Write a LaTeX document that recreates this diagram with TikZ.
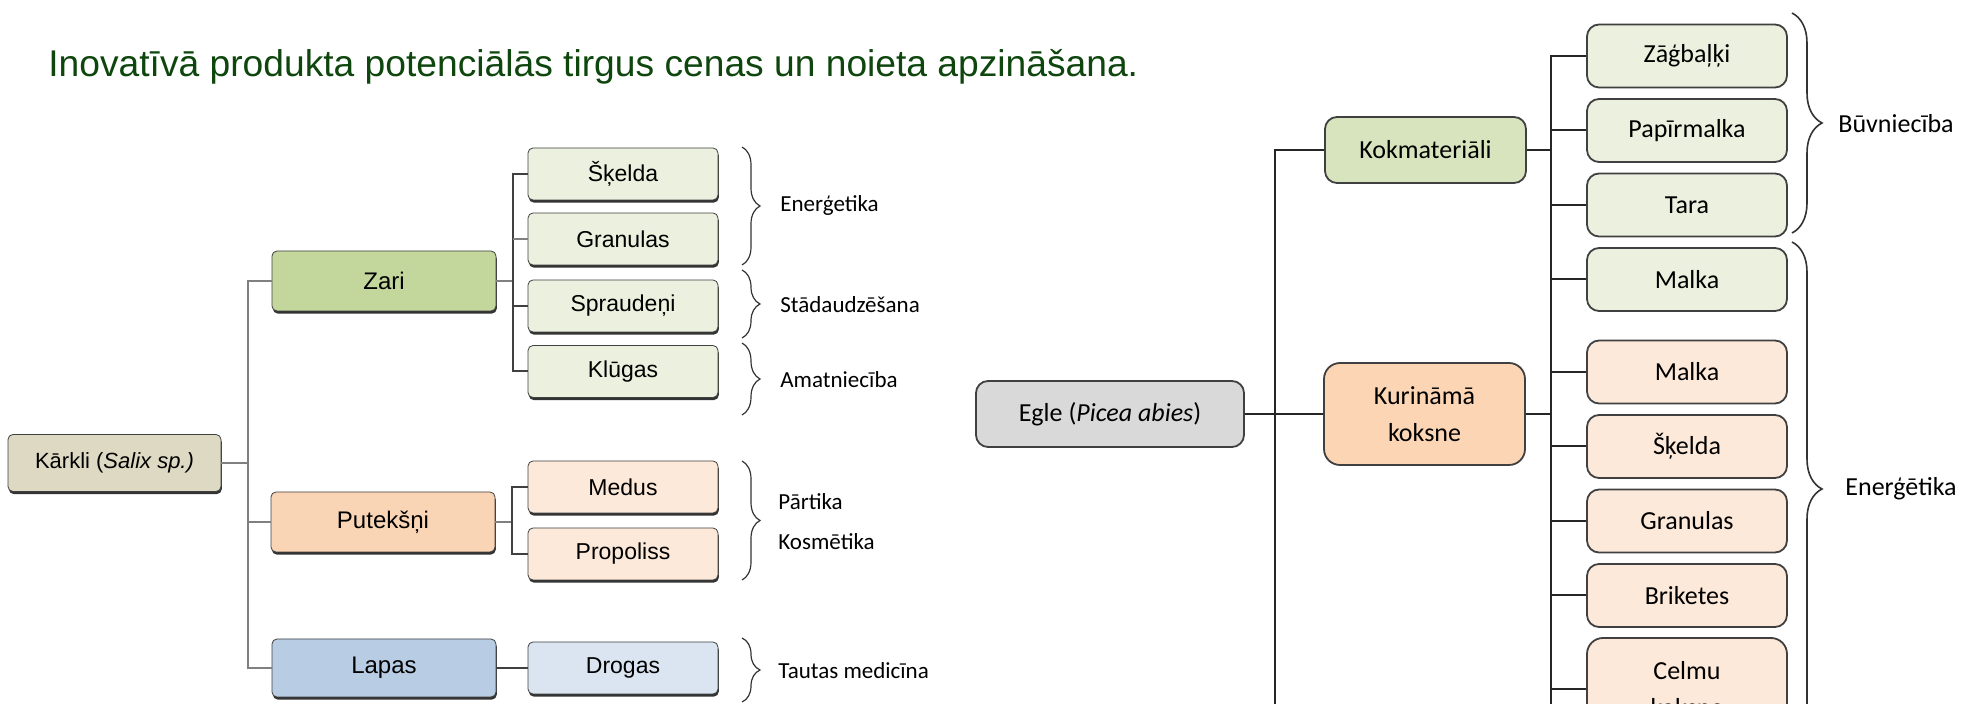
\documentclass[tikz,border=0pt]{standalone}
\usepackage{fontspec}
\setmainfont{Liberation Sans}
\newfontfamily\calibri{Carlito}
\usepackage{tikz}
\usetikzlibrary{shadows}
\usetikzlibrary{decorations.pathreplacing}

\definecolor{titlegreen}{RGB}{14,70,14}
\definecolor{karkliFill}{RGB}{221,217,195}
\definecolor{zariFill}{RGB}{195,214,155}
\definecolor{putekFill}{RGB}{250,213,181}
\definecolor{lapasFill}{RGB}{184,204,228}
\definecolor{greenLight}{RGB}{235,241,222}
\definecolor{peachLight}{RGB}{253,233,217}
\definecolor{blueLight}{RGB}{219,229,241}
\definecolor{egleFill}{RGB}{217,217,217}
\definecolor{kokFill}{RGB}{215,228,189}
\definecolor{kurFill}{RGB}{252,213,180}

\begin{document}
\begin{tikzpicture}[x=0.5pt,y=-0.5pt,
  lbox/.style={draw=black!75, line width=0.4pt, rounded corners=2.5pt, minimum width=112pt, minimum height=30pt, inner sep=0pt, font=\fontsize{12}{14}\selectfont, drop shadow={shadow xshift=0.4pt, shadow yshift=-1.3pt, fill=black!80, opacity=1}},
  lsub/.style={lbox, minimum width=95pt, minimum height=26pt, font=\fontsize{11.5}{14}\selectfont},
  rbox/.style={draw=black!75, line width=0.9pt, rounded corners=6pt, minimum width=100.5pt, minimum height=33pt, inner sep=0pt, align=center, font=\calibri\fontsize{13}{18.5}\selectfont},
  rsub/.style={rbox, minimum width=100pt, minimum height=31.5pt},
  lline/.style={draw=black!50, line width=1.2pt},
  lsubline/.style={draw=black!75, line width=1pt},
  rline/.style={draw=black!85, line width=1pt},
  lbrace/.style={decorate, decoration={brace, amplitude=9pt}, draw=black!80, line width=0.6pt},
  rbrace/.style={decorate, decoration={brace, amplitude=15pt}, draw=black!80, line width=0.8pt},
  ltext/.style={anchor=west, inner sep=0pt, font=\calibri\fontsize{11.5}{14}\selectfont},
  rtext/.style={anchor=west, inner sep=0pt, font=\calibri\fontsize{13}{16}\selectfont}]
\useasboundingbox (0,0) rectangle (1972,704);
\clip (0,0) rectangle (1972,704);

\node[anchor=base west, inner sep=0pt, text=titlegreen, font=\fontsize{18.6}{22}\selectfont] (title) at (48,77) {Inovatīvā produkta potenciālās tirgus cenas un noieta apzināšana.};

%% Karkli
\node[lbox, fill=karkliFill, minimum width=106.5pt, minimum height=28.5pt, font=\fontsize{11}{13}\selectfont] (karkli) at (114.5,463) {Kārkli (\textit{Salix sp.)}};
\node[lbox, fill=zariFill] (zari) at (384,281) {Zari};
\node[lbox, fill=putekFill] (putek) at (383,522) {Putekšņi};
\node[lbox, fill=lapasFill, minimum height=29pt] (lapas) at (384,668) {Lapas};

\node[lsub, fill=greenLight] (skelda) at (623,174) {Šķelda};
\node[lsub, fill=greenLight] (granulas) at (623,239) {Granulas};
\node[lsub, fill=greenLight] (spraud) at (623,306) {Spraudeņi};
\node[lsub, fill=greenLight] (klugas) at (623,371.5) {Klūgas};
\node[lsub, fill=peachLight] (medus) at (623,487) {Medus};
\node[lsub, fill=peachLight] (propol) at (623,554) {Propoliss};
\node[lsub, fill=blueLight] (drogas) at (623,668) {Drogas};

\coordinate (lspine) at (248,0);
\coordinate (zspine) at (513,0);
\coordinate (pspine) at (512,0);

\draw[lline] (zari.west) -- (zari.west -| lspine) -- (lapas.west -| lspine) -- (lapas.west);
\draw[lline] (karkli.east) -- (karkli.east -| lspine);
\draw[lline] (putek.west) -- (putek.west -| lspine);

\draw[lline] (zari.east) -- (zari.east -| zspine);
\draw[lsubline] (skelda.west) -- (skelda.west -| zspine) -- (klugas.west -| zspine) -- (klugas.west);
\draw[lline] (granulas.west) -- (granulas.west -| zspine);
\draw[lsubline] (spraud.west) -- (spraud.west -| zspine);

\draw[lline] (putek.east) -- (putek.east -| pspine);
\draw[lsubline] (medus.west) -- (medus.west -| pspine) -- (propol.west -| pspine) -- (propol.west);
\draw[lsubline] (lapas.east) -- (drogas.west);

\draw[lbrace] (742,147) -- (742,265);
\draw[lbrace] (742,270) -- (742,338);
\draw[lbrace] (742,343) -- (742,415);
\draw[lbrace] (742,461) -- (742,580);
\draw[lbrace] (742,638) -- (742,702);

\node[ltext] (energ) at (780,206) {Enerģetika};
\node[ltext] (stad) at (780,305) {Stādaudzēšana};
\node[ltext] (amat) at (780,380) {Amatniecība};
\node[ltext] (part) at (778,502) {Pārtika};
\node[ltext] (kosm) at (778,542) {Kosmētika};
\node[ltext] (taut) at (778,671) {Tautas medicīna};

%% Egle
\node[rbox, fill=egleFill, minimum width=134pt] (egle) at (1110,414) {Egle (\textit{Picea abies})};
\node[rbox, fill=kokFill] (kokm) at (1425.5,150) {Kokmateriāli};
\node[rbox, fill=kurFill, minimum height=51pt, rounded corners=8pt] (kurin) at (1424.5,414) {Kurināmā\\koksne};

\node[rsub, fill=greenLight] (zagb) at (1687,56) {Zāģbaļķi};
\node[rsub, fill=greenLight] (papir) at (1687,130.5) {Papīrmalka};
\node[rsub, fill=greenLight] (tara) at (1687,205) {Tara};
\node[rsub, fill=greenLight] (malkaA) at (1687,279.5) {Malka};
\node[rsub, fill=peachLight] (malkaB) at (1687,372) {Malka};
\node[rsub, fill=peachLight] (skeldaB) at (1687,446.5) {Šķelda};
\node[rsub, fill=peachLight] (granB) at (1687,521) {Granulas};
\node[rsub, fill=peachLight] (brik) at (1687,595.5) {Briketes};
\node[rsub, fill=peachLight, minimum height=51pt, rounded corners=8pt] (celmu) at (1687,689) {Celmu\\koksne};

\coordinate (espine) at (1275,0);
\coordinate (espineEnd) at (1275,720);
\coordinate (kspine) at (1551,0);
\coordinate (kspineEnd) at (1551,720);

\draw[rline] (kokm.west) -- (kokm.west -| espine) -- (espineEnd);
\draw[rline] (egle.east) -- (kurin.west);
\draw[rline] (kokm.east) -- (kokm.east -| kspine);
\draw[rline] (kurin.east) -- (kurin.east -| kspine);
\draw[rline] (zagb.west) -- (zagb.west -| kspine) -- (kspineEnd);
\draw[rline] (papir.west) -- (papir.west -| kspine);
\draw[rline] (tara.west) -- (tara.west -| kspine);
\draw[rline] (malkaA.west) -- (malkaA.west -| kspine);
\draw[rline] (malkaB.west) -- (malkaB.west -| kspine);
\draw[rline] (skeldaB.west) -- (skeldaB.west -| kspine);
\draw[rline] (granB.west) -- (granB.west -| kspine);
\draw[rline] (brik.west) -- (brik.west -| kspine);
\draw[rline] (celmu.west) -- (celmu.west -| kspine);

\draw[rbrace] (1792,13) -- (1792,233);
\draw[rbrace] (1792,242) -- (1792,736);

\node[rtext] (buvn) at (1838,124) {Būvniecība};
\node[rtext] (energB) at (1845,489) {Enerģētika};
\end{tikzpicture}
\end{document}
